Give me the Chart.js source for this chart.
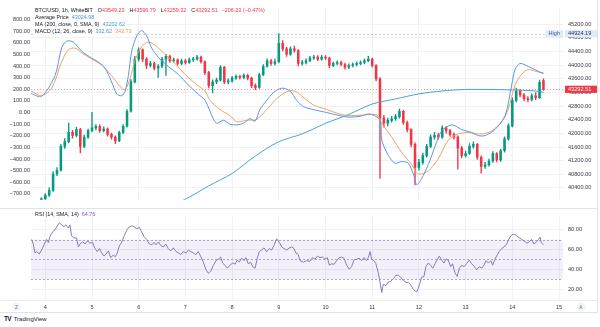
<!DOCTYPE html>
<html>
<head>
<meta charset="utf-8">
<script src="https://cdn.jsdelivr.net/npm/chart.js@4.4.1/dist/chart.umd.min.js"></script>
<style>
  html, body { margin: 0; padding: 0; background: #fff; }
  body { width: 600px; height: 327px; position: relative; overflow: hidden; font-family: "Liberation Sans", Arial, sans-serif; }
  #main { position: absolute; left: 0; top: 0; }
  #rsi { position: absolute; left: 0; top: 208px; }
  #logo { position: absolute; left: 4px; top: 315px; font-size: 6px; line-height: 8px; color: #131722; white-space: nowrap; }
  #logo b { font-size: 6.5px; letter-spacing: -0.6px; margin-right: 1px; }
</style>
</head>
<body>
<canvas id="main" width="600" height="208"></canvas>
<canvas id="rsi" width="600" height="105"></canvas>
<div id="logo"><b>TV</b> TradingView</div>
<script>
// hours are counted from the 4th, 00:00; one bar every 2 hours
const firstBarHour = -6;
const firstOpen = 39800;
const lastOpen = 43549.23;
const avgPrice = 43024.98;

const closes = [
  39870, 39950, 40080, 40190, 40330, 40810, 40920, 41620, 41760, 42030,
  41940, 42110, 41620, 41890, 42080, 42160, 42210, 42080, 42130, 41970,
  41890, 41780, 42030, 42210, 42650, 43510, 44180, 44450, 44180, 43990,
  44050, 43910, 43970, 44180, 44260, 44130, 44160, 44050, 44130, 44080,
  44160, 44180, 44240, 44100, 43780, 43400, 43510, 43560, 43940, 43510,
  43540, 43620, 43670, 43640, 43700, 43620, 43400, 43350, 43720, 43970,
  44130, 44050, 44100, 44640, 44480, 44320, 44480, 44430, 44050, 44080,
  44130, 44210, 44240, 44180, 44240, 44210, 43990, 44050, 44080, 44020,
  43940, 43990, 44020, 44050, 44080, 44130, 44180, 43990, 43600, 42450,
  42300, 42380, 42430, 42490, 42650, 42320, 42110, 41680, 41000, 41150,
  41350, 41620, 41890, 41940, 41890, 42160, 42080, 41970, 41890, 41570,
  41350, 41410, 41620, 41680, 41300, 41030, 41080, 41190, 41410, 41220,
  41490, 41840, 42220, 42970, 43240, 43130, 43020, 42990, 43100, 43050,
  43498.74, 43292.51
];
const highs = [
  39900, 39990, 40120, 40230, 40400, 40880, 41000, 41680, 41850, 42300,
  42090, 42180, 42150, 41950, 42130, 42620, 42260, 42250, 42190, 42160,
  42010, 41930, 42070, 42260, 42700, 43580, 44260, 44510, 44480, 44220,
  44110, 44090, 44020, 44230, 44320, 44300, 44210, 44190, 44180, 44170,
  44210, 44230, 44290, 44270, 44130, 43820, 43570, 43620, 43990, 43970,
  43600, 43670, 43720, 43710, 43750, 43740, 43650, 43450, 43770, 44020,
  44190, 44170, 44180, 44924.19, 44720, 44530, 44540, 44560, 44460, 44140,
  44190, 44260, 44290, 44280, 44290, 44280, 44240, 44100, 44130, 44120,
  44060, 44040, 44070, 44100, 44130, 44180, 44260, 44210, 44020, 43640,
  42530, 42450, 42500, 42560, 42710, 42680, 42360, 42140, 41720, 41240,
  41420, 41680, 41960, 42030, 42000, 42220, 42200, 42120, 42020, 41930,
  41620, 41480, 41700, 41750, 41710, 41340, 41150, 41250, 41470, 41440,
  41540, 41900, 42290, 43040, 43330, 43290, 43170, 43080, 43160, 43200,
  43560, 43596.79
];
const lows = [
  39760, 39840, 39930, 40050, 40150, 40300, 40760, 40890, 41560, 41720,
  41860, 41900, 41430, 41580, 41850, 42040, 42100, 42030, 42040, 41920,
  41830, 41700, 41760, 41990, 42180, 42620, 43480, 44120, 44100, 43900,
  43950, 43860, 43640, 43930, 43700, 44080, 44090, 44000, 44010, 44030,
  44050, 44110, 44150, 44060, 43720, 43330, 43190, 43460, 43530, 43460,
  43450, 43500, 43580, 43590, 43600, 43570, 43340, 43280, 43320, 43690,
  43940, 43990, 44000, 44070, 44420, 44260, 44290, 44380, 43980, 44000,
  44040, 44100, 44170, 44130, 44150, 44160, 43930, 43960, 44010, 43980,
  43880, 43900, 43950, 43980, 44010, 44040, 44100, 43940, 43540, 40680,
  42180, 42220, 42330, 42380, 42450, 42260, 42040, 41600, 40490, 40920,
  41100, 41300, 41580, 41820, 41830, 41850, 42010, 41910, 41830, 40950,
  41280, 41300, 41380, 41570, 41240, 40830, 40970, 41040, 41150, 41160,
  41180, 41450, 41800, 42190, 42920, 43070, 42950, 42920, 42950, 42990,
  43020, 43259.32
];

// MA (200) on the price scale
const maHours = [60, 72, 84, 96, 108, 120, 132, 144, 156, 168, 180, 192, 204, 216, 228, 240, 252, 256];
const maValues = [39787, 40070, 40461, 40826, 41338, 41756, 41985, 42295, 42557, 42862,
  43010, 43158, 43245, 43288, 43288, 43274, 43245, 43202.62];

// MACD (12, 26, 9) on the left scale
const macdHours = [
  -7.3, -1.9, 5.0, 8.4, 11.0, 14.4, 18.7, 23.0, 27.2, 30.7,
  34.1, 36.7, 39.3, 41.0, 42.7, 44.4, 47.0, 49.5, 52.1, 54.7,
  58.1, 63.2, 68.3, 73.5, 78.6, 82.1, 86.3, 88.1, 91.5, 94.9,
  98.4, 101.8, 105.2, 107.8, 110.3, 113.8, 117.2, 121.5, 125.8, 129.2,
  132.6, 137.7, 144.6, 151.4, 156.6, 161.7, 166.9, 172.0, 172.9, 176.3,
  179.7, 183.2, 186.5, 189.1, 190.9, 193.4, 196.8, 200.3, 203.7, 208.9,
  214.0, 219.1, 222.5, 226.0, 231.1, 236.3, 239.7, 241.4, 244.0, 248.2,
  251.7, 256.0
];
const macdValues = [
  163, 139, 319, 556, 614, 606, 527, 477, 435, 382,
  263, 161, 145, 184, 319, 527, 659, 704, 659, 554,
  475, 396, 329, 237, 158, 105, -53, -93, -66, -100,
  -106, -93, -53, -74, 26, 105, 171, 210, 184, 105,
  52, 26, 0, -27, -40, -32, -13, -66, -237, -369,
  -435, -422, -435, -528, -620, -567, -449, -290, -158, -106,
  -146, -172, -198, -198, -146, -27, 237, 369, 422, 396,
  369, 332.62
];
const signalHours = [
  -7.3, -1.9, 3.3, 8.4, 11.8, 15.3, 18.7, 23.8, 29.0, 34.1,
  38.4, 41.0, 43.5, 46.1, 49.5, 52.9, 56.4, 61.5, 66.7, 71.8,
  77.0, 82.1, 84.6, 89.8, 94.9, 98.4, 103.5, 108.6, 113.8, 118.9,
  124.1, 128.3, 132.6, 137.7, 144.6, 151.4, 156.6, 163.4, 170.3, 172.9,
  178.0, 183.2, 188.3, 191.7, 196.8, 202.0, 207.1, 212.2, 217.4, 224.3,
  229.4, 234.5, 237.9, 241.4, 244.8, 248.2, 253.4, 256.0
];
const signalValues = [
  184, 145, 210, 435, 540, 554, 514, 461, 408, 316,
  224, 198, 290, 448, 566, 606, 580, 501, 422, 329,
  250, 184, 105, 26, -27, -79, -66, -59, 26, 119,
  179, 184, 131, 66, 26, -13, -27, -21, -21, -93,
  -211, -343, -449, -528, -502, -396, -237, -185, -172, -185,
  -158, -79, 26, 237, 329, 369, 348, 343.73
];

// RSI (14)
const rsiHours = [
  -7.0, -6.2, -5.3, -4.4, -3.1, -1.9, -0.7, 0.7, 1.6, 2.4,
  3.8, 5.0, 6.2, 7.2, 8.4, 9.6, 10.6, 11.8, 12.7, 13.5,
  14.7, 16.1, 17.0, 17.8, 19.2, 20.4, 21.6, 23.0, 24.3, 25.5,
  26.7, 27.8, 29.0, 30.2, 31.2, 32.4, 33.6, 34.9, 36.0, 37.0,
  38.0, 39.2, 40.4, 41.8, 43.2, 44.4, 45.6, 47.0, 48.3, 49.5,
  50.7, 52.1, 53.5, 54.7, 55.9, 56.9, 58.1, 59.3, 60.7, 61.9,
  63.2, 64.4, 65.8, 67.2, 68.4, 69.6, 70.9, 72.3, 73.5, 74.7,
  76.1, 77.4, 78.6, 79.8, 81.2, 82.6, 83.8, 85.0, 86.4, 87.7,
  88.9, 90.1, 91.1, 92.3, 93.5, 94.9, 96.3, 97.5, 98.7, 99.7,
  100.9, 102.1, 103.1, 104.3, 105.5, 106.6, 107.8, 109.0, 110.0, 111.2,
  112.4, 113.8, 115.1, 116.3, 117.5, 118.9, 120.3, 121.5, 122.7, 124.0,
  125.4, 126.6, 127.8, 128.8, 130.0, 130.9,
  132.6, 134.3, 136.0, 137.4, 138.6, 139.8, 141.2, 142.5, 143.7, 144.9,
  146.0, 147.2, 148.4, 149.7, 151.1, 152.3, 153.5, 154.9, 156.2, 157.4,
  158.6, 160.0, 161.4, 162.6, 163.8, 165.1, 166.0, 166.9, 167.7, 168.9,
  169.9, 171.1, 172.0, 172.9, 173.7, 175.1, 176.3, 177.5, 178.9, 180.2,
  181.4, 182.6, 184.0, 185.4, 186.6, 187.8, 189.1, 190.5, 191.2, 192.2,
  193.4, 194.6, 195.6, 196.8, 198.0, 199.1, 200.3, 201.5, 202.5, 203.7,
  204.9, 205.9, 207.1, 208.3, 209.3, 210.5, 211.7, 212.8, 214.0, 215.2,
  216.5, 217.9, 219.1, 220.3, 221.7, 223.0, 224.3, 225.4, 226.5, 227.7,
  228.9, 229.9, 231.1, 232.3, 233.3, 234.5, 235.7, 237.1, 238.5, 239.7,
  240.9, 242.2, 243.6, 244.8, 246.0, 247.4, 248.7, 249.9, 251.1, 252.5,
  253.5, 254.2, 254.9, 256.0
];
const rsiValues = [
  70.2, 65.6, 56.5, 58.0, 55.5, 59.5, 64.7, 70.2, 67.0, 73.3,
  77.9, 80.0, 84.0, 87.0, 84.9, 83.0, 84.9, 81.8, 84.9, 73.9,
  71.7, 71.7, 62.6, 65.6, 67.8, 65.6, 68.7, 66.5, 67.2, 61.0,
  58.0, 61.0, 56.5, 53.4, 55.5, 58.6, 51.9, 54.3, 52.8, 56.5,
  63.5, 67.2, 73.3, 79.4, 83.0, 84.0, 83.0, 80.9, 82.4, 77.9,
  73.3, 70.2, 65.6, 64.7, 67.2, 64.7, 67.8, 64.1, 62.6, 65.6,
  61.0, 58.6, 61.7, 58.0, 56.5, 54.9, 58.0, 56.5, 59.5, 58.0,
  56.5, 54.9, 58.0, 53.4, 47.3, 39.6, 36.0, 38.1, 44.2, 48.8,
  50.3, 52.5, 46.4, 44.2, 41.2, 44.2, 46.4, 45.3, 49.4, 47.3,
  51.3, 48.8, 51.9, 45.7, 47.3, 42.7, 41.2, 51.9, 58.0, 59.5,
  61.7, 58.0, 61.0, 59.5, 64.1, 70.8, 67.2, 62.6, 61.0, 59.5,
  61.7, 62.6, 61.0, 56.5, 54.9, 48.8,
  47.3, 48.8, 48.2, 51.9, 50.3, 53.4, 51.9, 52.5, 50.3, 51.9,
  44.2, 45.7, 45.1, 48.8, 51.9, 52.5, 51.3, 44.2, 40.2, 42.7,
  49.4, 50.3, 51.3, 48.8, 51.9, 48.8, 51.9, 58.0, 50.3, 48.8,
  45.7, 36.6, 27.4, 16.7, 25.0, 23.7, 27.4, 28.0, 30.5, 34.1,
  34.1, 32.0, 28.9, 26.8, 26.8, 24.3, 19.8, 17.6, 18.2, 24.3,
  32.0, 32.9, 42.7, 46.4, 44.2, 41.2, 45.7, 50.3, 53.4, 49.4,
  46.4, 50.3, 49.4, 42.7, 45.7, 36.6, 32.9, 41.2, 44.2, 42.7,
  45.7, 49.4, 45.7, 43.3, 39.6, 42.7, 41.2, 44.2, 48.8, 46.4,
  48.8, 44.2, 50.3, 54.9, 58.0, 61.0, 62.6, 65.6, 71.7, 74.8,
  75.7, 73.9, 71.7, 70.2, 68.7, 66.5, 67.8, 70.2, 65.6, 67.8,
  70.2, 72.7, 67.2, 64.76
];

const dayLabels = ['4', '5', '6', '7', '8', '9', '10', '11', '12', '13', '14', '15'];
const priceTicks = [40400, 40800, 41200, 41600, 42000, 42400, 42800, 43200, 43600, 44000, 44400, 44800, 45200];
const macdTicks = [-700, -600, -500, -400, -300, -200, -100, 0, 100, 200, 300, 400, 500, 600, 700, 800];
const rsiTicks = [20, 40, 60, 80];
const rsiLevels = [70, 50, 30];

// visible window, in hours
const xMin = -7.35, xMax = 266.05;

const UP = '#089981', DOWN = '#f23645';
const gridColor = '#eef1f6';
const textColor = '#363a45';
const FAMILY = '"Liberation Sans", Arial, sans-serif';
const axisFont = { family: FAMILY, size: 5.6 };
const legendFont = '5.4px ' + FAMILY;

Chart.defaults.font.family = FAMILY;

const fmt = v => (v < 0 ? '\u2212' : '') + Math.abs(v).toFixed(2);

const bars = closes.map((c, i) => {
  const o = i === 0 ? firstOpen : (i === closes.length - 1 ? lastOpen : closes[i - 1]);
  return { x: firstBarHour + 2 * i, o, h: highs[i], l: lows[i], c };
});
const barColors = bars.map(b => (b.c >= b.o ? UP : DOWN));
const last = bars[bars.length - 1];
const prevClose = closes[closes.length - 2];
const change = last.c - prevClose;
const highPrice = Math.max(...highs);

const ticksFrom = list => s => { s.ticks = list.map(v => ({ value: v })); };
const dayHours = dayLabels.map((_, i) => i * 24);

function drawRow(ctx, x, y, parts, withBg) {
  ctx.font = legendFont;
  let w = 0;
  parts.forEach(p => { w += (p.gap || 0) + ctx.measureText(p.text).width; });
  if (withBg) {
    ctx.fillStyle = 'rgba(255,255,255,0.92)';
    ctx.fillRect(x - 2, y - 3.5, w + 4, 7);
  }
  ctx.textAlign = 'left';
  ctx.textBaseline = 'middle';
  let cx = x;
  parts.forEach(p => {
    cx += p.gap || 0;
    ctx.fillStyle = p.color;
    ctx.fillText(p.text, cx, y);
    cx += ctx.measureText(p.text).width;
  });
}

function hLine(ctx, x0, x1, y, color, dash) {
  ctx.save();
  ctx.strokeStyle = color;
  ctx.lineWidth = 1;
  ctx.setLineDash(dash || []);
  ctx.beginPath();
  ctx.moveTo(x0, Math.round(y) + 0.5);
  ctx.lineTo(x1, Math.round(y) + 0.5);
  ctx.stroke();
  ctx.restore();
}

function axisTag(ctx, x, y, w, text, bg, fg) {
  ctx.fillStyle = bg;
  ctx.fillRect(x, y - 3.6, w, 7.2);
  ctx.font = '5.6px ' + FAMILY;
  ctx.fillStyle = fg;
  ctx.textAlign = 'left';
  ctx.textBaseline = 'middle';
  ctx.fillText(text, x + 3, y + 0.2);
}

const mainOverlay = {
  id: 'mainOverlay',
  beforeDatasetsDraw(chart) {
    const { ctx, chartArea: a, scales } = chart;
    hLine(ctx, a.left, a.right, scales.price.getPixelForValue(highPrice), 'rgba(150,153,164,0.45)', [2, 2]);
    hLine(ctx, a.left, a.right, scales.price.getPixelForValue(last.c), 'rgba(242,54,69,0.5)', [1, 2]);
  },
  afterDraw(chart) {
    const { ctx, chartArea: a, scales } = chart;
    ctx.save();
    const dark = '#131722';
    const red = '#f23645';
    drawRow(ctx, 35, 11, [
      { text: 'BTC/USD, 1h, WhiteBIT', color: dark },
      { text: 'O', color: dark, gap: 5 }, { text: fmt(last.o), color: red },
      { text: 'H', color: dark, gap: 5 }, { text: fmt(last.h), color: red },
      { text: 'L', color: dark, gap: 5 }, { text: fmt(last.l), color: red },
      { text: 'C', color: dark, gap: 5 }, { text: fmt(last.c), color: red },
      { text: fmt(change) + ' (' + fmt(change / prevClose * 100) + '%)', color: red, gap: 4 }
    ], true);
    drawRow(ctx, 35, 18, [
      { text: 'Average Price', color: dark },
      { text: fmt(avgPrice), color: '#4f8fe8', gap: 3 }
    ], true);
    drawRow(ctx, 35, 25, [
      { text: 'MA (200, close, 0, SMA, 9)', color: dark },
      { text: fmt(maValues[maValues.length - 1]), color: '#3a9fd6', gap: 3 }
    ], true);
    drawRow(ctx, 35, 32, [
      { text: 'MACD (12, 26, close, 9)', color: dark },
      { text: fmt(macdValues[macdValues.length - 1]), color: '#4f8fe8', gap: 3 },
      { text: fmt(signalValues[signalValues.length - 1]), color: '#f29a52', gap: 3 }
    ], true);

    // price scale tags
    const yHigh = scales.price.getPixelForValue(highPrice);
    ctx.font = '5.6px ' + FAMILY;
    const hw = ctx.measureText('High').width + 6;
    axisTag(ctx, a.right - hw, yHigh, hw, 'High', '#dfeafb', '#4a5d80');
    axisTag(ctx, a.right + 2, yHigh, 33, highPrice.toFixed(2), '#dfeafb', '#2a3550');
    axisTag(ctx, a.right + 2, scales.price.getPixelForValue(last.c), 33, last.c.toFixed(2), '#f23645', '#ffffff');

    // outer frame on the right
    ctx.strokeStyle = '#e0e3eb';
    ctx.beginPath();
    ctx.moveTo(597.5, 0);
    ctx.lineTo(597.5, 208);
    ctx.stroke();
    ctx.restore();
  }
};

new Chart(document.getElementById('main'), {
  type: 'bar',
  data: {
    datasets: [
      {
        type: 'line', label: 'MACD', yAxisID: 'macd',
        data: macdHours.map((h, i) => ({ x: h, y: macdValues[i] })),
        borderColor: '#5a97e6', borderWidth: 1, pointRadius: 0, tension: 0.3, order: 0
      },
      {
        type: 'line', label: 'Signal', yAxisID: 'macd',
        data: signalHours.map((h, i) => ({ x: h, y: signalValues[i] })),
        borderColor: '#f0a262', borderWidth: 1, pointRadius: 0, tension: 0.3, order: 0
      },
      {
        type: 'line', label: 'MA 200', yAxisID: 'price',
        data: maHours.map((h, i) => ({ x: h, y: maValues[i] })),
        borderColor: '#47a3d6', borderWidth: 1, pointRadius: 0, tension: 0.3, order: 1
      },
      {
        label: 'Bodies', yAxisID: 'price', grouped: false,
        data: bars.map(b => ({ x: b.x, y: [b.o, b.c] })),
        backgroundColor: barColors, barThickness: 1.9, minBarLength: 0.8, order: 2
      },
      {
        label: 'Wicks', yAxisID: 'price', grouped: false,
        data: bars.map(b => ({ x: b.x, y: [b.l, b.h] })),
        backgroundColor: barColors, barThickness: 0.7, order: 3
      }
    ]
  },
  options: {
    responsive: false,
    animation: false,
    events: [],
    layout: { padding: 0 },
    plugins: { legend: { display: false }, tooltip: { enabled: false } },
    scales: {
      x: {
        type: 'linear', min: xMin, max: xMax, offset: false,
        grid: { color: gridColor, drawTicks: false, offset: false },
        border: { display: false },
        ticks: { display: false },
        afterBuildTicks: ticksFrom(dayHours),
        afterFit: s => { s.height = 0; }
      },
      price: {
        type: 'linear', position: 'right', min: 40057, max: 45667,
        grid: { color: gridColor, drawTicks: false },
        border: { display: false },
        ticks: { padding: 5, font: axisFont, color: textColor, callback: v => v.toFixed(2) },
        afterBuildTicks: ticksFrom(priceTicks),
        afterFit: s => { s.width = 37; }
      },
      macd: {
        type: 'linear', position: 'left', min: -749, max: 896,
        grid: { display: false, drawTicks: false },
        border: { display: false },
        ticks: { padding: 1, font: axisFont, color: textColor, callback: v => fmt(v) },
        afterBuildTicks: ticksFrom(macdTicks),
        afterFit: s => { s.width = 31; }
      }
    }
  },
  plugins: [mainOverlay]
});

const rsiOverlay = {
  id: 'rsiOverlay',
  beforeDatasetsDraw(chart) {
    const { ctx, chartArea: a, scales } = chart;
    const y70 = scales.y.getPixelForValue(70);
    const y30 = scales.y.getPixelForValue(30);
    ctx.save();
    ctx.fillStyle = 'rgba(126,87,194,0.09)';
    ctx.fillRect(a.left, y70, a.right - a.left, y30 - y70);
    ctx.restore();
    rsiLevels.forEach(v => hLine(ctx, a.left, a.right, scales.y.getPixelForValue(v), 'rgba(140,130,170,0.7)', [2, 2]));
  },
  afterDraw(chart) {
    const { ctx, chartArea: a } = chart;
    ctx.save();
    drawRow(ctx, 35, 7, [
      { text: 'RSI (14, SMA, 14)', color: '#131722' },
      { text: rsiValues[rsiValues.length - 1].toFixed(2), color: '#7e57c2', gap: 3 }
    ], false);

    // pane separators
    hLine(ctx, 0, 598, -0.5, '#e0e3eb');
    hLine(ctx, 0, 598, a.bottom - 0.5, '#e8eaf0');
    hLine(ctx, 0, 598, 104, '#e0e3eb');
    ctx.strokeStyle = '#e0e3eb';
    ctx.beginPath();
    ctx.moveTo(597.5, 0);
    ctx.lineTo(597.5, 104.5);
    ctx.stroke();

    // scale buttons in the time strip
    const cy = a.bottom + 7;
    [[16.5, 'Z'], [581, 'A']].forEach(([cx, t]) => {
      ctx.fillStyle = '#f0f3fa';
      ctx.beginPath();
      ctx.arc(cx, cy, 4.3, 0, Math.PI * 2);
      ctx.fill();
      ctx.fillStyle = '#787b86';
      ctx.font = '5px ' + FAMILY;
      ctx.textAlign = 'center';
      ctx.textBaseline = 'middle';
      ctx.fillText(t, cx, cy + 0.2);
    });
    ctx.restore();
  }
};

new Chart(document.getElementById('rsi'), {
  type: 'line',
  data: {
    datasets: [{
      label: 'RSI',
      data: rsiHours.map((h, i) => ({ x: h, y: rsiValues[i] })),
      borderColor: '#8a7cb6', borderWidth: 1, pointRadius: 0, tension: 0
    }]
  },
  options: {
    responsive: false,
    animation: false,
    events: [],
    layout: { padding: { left: 31, top: 0, right: 0, bottom: 0 } },
    plugins: { legend: { display: false }, tooltip: { enabled: false } },
    scales: {
      x: {
        type: 'linear', min: xMin, max: xMax,
        grid: { color: gridColor, drawTicks: false },
        border: { display: false },
        ticks: { padding: 4, font: axisFont, color: textColor, autoSkip: false, maxRotation: 0,
          callback: (v, i) => dayLabels[i] },
        afterBuildTicks: ticksFrom(dayHours),
        afterFit: s => { s.height = 13; }
      },
      y: {
        type: 'linear', position: 'right', min: 9.1, max: 93.5,
        grid: { color: gridColor, drawTicks: false },
        border: { display: false },
        ticks: { padding: 5, font: axisFont, color: textColor, callback: v => v.toFixed(2) },
        afterBuildTicks: ticksFrom(rsiTicks),
        afterFit: s => { s.width = 37; }
      }
    }
  },
  plugins: [rsiOverlay]
});
</script>
</body>
</html>
